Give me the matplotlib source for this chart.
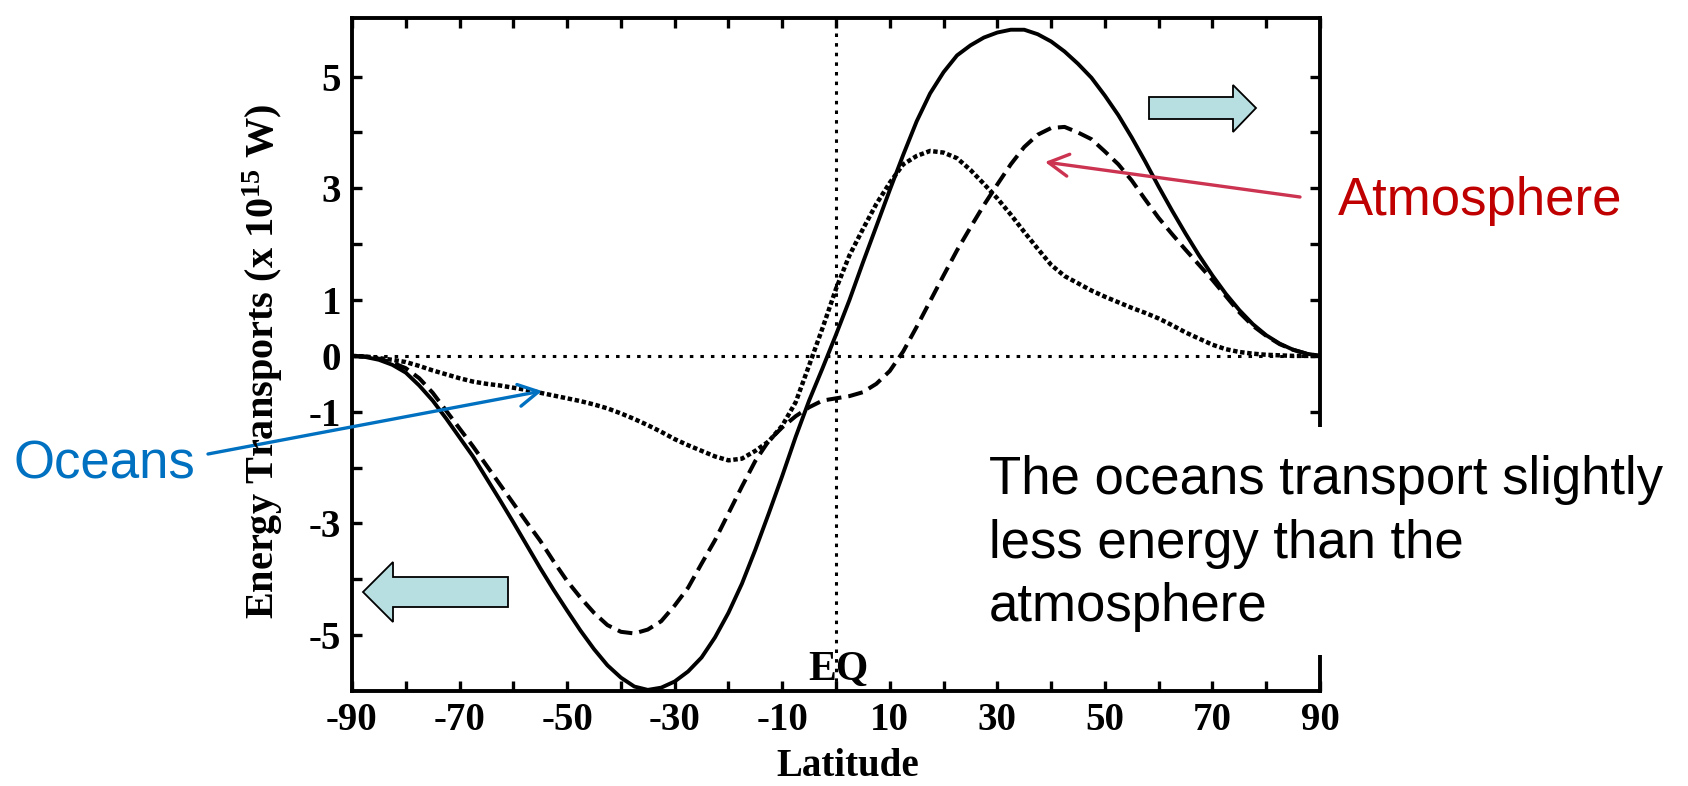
import matplotlib
matplotlib.use('Agg')
import matplotlib.pyplot as plt
from matplotlib.patches import Polygon, Rectangle

# ---------------- data ----------------
lat = [-90, -87.5, -85, -82.5, -80, -77.5, -75, -72.5, -70, -67.5, -65, -62.5,
       -60, -57.5, -55, -52.5, -50, -47.5, -45, -42.5, -40, -37.5, -35, -32.5,
       -30, -27.5, -25, -22.5, -20, -17.5, -15, -12.5, -10, -7.5, -5, -2.5,
       0, 2.5, 5, 7.5, 10, 12.5, 15, 17.5, 20, 22.5, 25, 27.5, 30, 32.5, 35,
       37.5, 40, 42.5, 45, 47.5, 50, 52.5, 55, 57.5, 60, 62.5, 65, 67.5, 70,
       72.5, 75, 77.5, 80, 82.5, 85, 87.5, 90]
total = [0, -0.02, -0.07, -0.16, -0.3, -0.53, -0.8, -1.12, -1.46, -1.8, -2.19,
         -2.58, -2.98, -3.39, -3.8, -4.19, -4.56, -4.92, -5.25, -5.54, -5.76,
         -5.92, -5.98, -5.94, -5.83, -5.65, -5.4, -5.04, -4.6, -4.08, -3.47,
         -2.82, -2.15, -1.45, -0.8, -0.22, 0.38, 1.0, 1.67, 2.32, 2.97, 3.6,
         4.2, 4.7, 5.08, 5.38, 5.56, 5.7, 5.79, 5.84, 5.84, 5.76, 5.63, 5.45,
         5.23, 4.98, 4.66, 4.31, 3.91, 3.48, 3.03, 2.6, 2.19, 1.8, 1.44, 1.11,
         0.82, 0.57, 0.37, 0.22, 0.11, 0.04, 0]
atmosphere = [0, -0.01, -0.05, -0.12, -0.22, -0.4, -0.66, -0.98, -1.3, -1.62,
              -1.96, -2.3, -2.64, -2.98, -3.31, -3.68, -4.03, -4.33, -4.6,
              -4.82, -4.94, -4.97, -4.9, -4.75, -4.47, -4.15, -3.72, -3.3,
              -2.82, -2.34, -1.88, -1.52, -1.28, -1.08, -0.92, -0.8, -0.76,
              -0.72, -0.65, -0.5, -0.27, 0.08, 0.52, 0.98, 1.44, 1.89, 2.3,
              2.7, 3.07, 3.43, 3.74, 3.96, 4.08, 4.1, 4.0, 3.88, 3.66, 3.43,
              3.14, 2.8, 2.47, 2.18, 1.9, 1.63, 1.36, 1.07, 0.78, 0.54, 0.36,
              0.21, 0.11, 0.04, 0]
ocean = [0, -0.01, -0.04, -0.07, -0.11, -0.18, -0.26, -0.33, -0.4, -0.46,
         -0.5, -0.53, -0.57, -0.61, -0.66, -0.71, -0.76, -0.81, -0.87, -0.94,
         -1.03, -1.13, -1.24, -1.36, -1.49, -1.6, -1.7, -1.8, -1.87, -1.84,
         -1.7, -1.53, -1.25, -0.83, -0.17, 0.5, 1.2, 1.8, 2.27, 2.72, 3.1,
         3.43, 3.58, 3.67, 3.64, 3.54, 3.33, 3.08, 2.82, 2.53, 2.22, 1.92,
         1.63, 1.43, 1.3, 1.17, 1.06, 0.96, 0.86, 0.77, 0.67, 0.55, 0.42,
         0.31, 0.2, 0.12, 0.07, 0.04, 0.02, 0.01, 0.0, 0.0, 0]

xtick_values = list(range(-90, 91, 10))
xtick_labels = ['-90', '', '-70', '', '-50', '', '-30', '', '-10', '',
                '10', '', '30', '', '50', '', '70', '', '90']
ytick_values = list(range(-5, 6))
ytick_labels = ['-5', '', '-3', '', '-1', '0', '1', '', '3', '', '5']

# ---------------- figure ----------------
W, H = 1688, 786
plt.rcParams['mathtext.fontset'] = 'custom'
plt.rcParams['mathtext.rm'] = 'Liberation Serif:bold'
plt.rcParams['mathtext.bf'] = 'Liberation Serif:bold'
plt.rcParams['mathtext.it'] = 'Liberation Serif:bold:italic'

fig = plt.figure(figsize=(W / 100, H / 100), dpi=100)
fig.patch.set_facecolor('white')


def fx(px):
    return px / W


def fy(py):
    return 1 - py / H


ax = fig.add_axes([fx(352), fy(691), fx(1320) - fx(352), fy(18) - fy(691)])
ax.set_xlim(-90, 90)
ax.set_ylim(-6.0, 6.05)

serif = 'Liberation Serif'

ax.axhline(0, color='black', lw=2.2, linestyle=(0, (1.15, 2.3)), zorder=1)
ax.axvline(0, color='black', lw=2.2, linestyle=(0, (1.15, 2.0)), zorder=1)
ax.plot(lat, total, color='black', lw=2.8, zorder=3)
ax.plot(lat, atmosphere, color='black', lw=2.9, linestyle=(0, (3.7, 1.75)), zorder=3)
ax.plot(lat, ocean, color='black', lw=3.2, linestyle=(0, (1.0, 0.6)), zorder=3)

for s in ax.spines.values():
    s.set_linewidth(2.8)

ax.set_xticks(xtick_values)
ax.set_xticklabels(xtick_labels, fontfamily=serif, fontweight='bold', fontsize=28)
ax.set_yticks(ytick_values)
ax.set_yticklabels(ytick_labels, fontfamily=serif, fontweight='bold', fontsize=28)
ax.tick_params(axis='both', direction='in', length=7, width=2.4,
               top=True, right=True)
ax.tick_params(axis='x', pad=8)
ax.tick_params(axis='y', pad=8)

ax.text(0.5, -5.8, 'EQ', fontfamily=serif, fontweight='bold', fontsize=30,
        ha='center', va='baseline', zorder=4)

fig.text(fx(848), fy(767), 'Latitude', fontfamily=serif, fontweight='bold',
         fontsize=28, ha='center', va='center')
fig.text(fx(263), fy(362), r'Energy Transports (x 10$^{\mathrm{15}}$ W)',
         fontfamily=serif, fontweight='bold', fontsize=29, rotation=90,
         ha='center', va='center')

# ---------------- annotations ----------------
cyan = '#B7DEE0'


def poly(pts):
    return Polygon([(fx(x), fy(y)) for x, y in pts], closed=True,
                   transform=fig.transFigure, facecolor=cyan,
                   edgecolor='black', lw=1.3, zorder=6)


fig.add_artist(poly([(363, 592), (393, 562), (393, 577), (508, 577),
                     (508, 607), (393, 607), (393, 622)]))
fig.add_artist(poly([(1149, 97), (1233, 97), (1233, 85), (1256, 108),
                     (1233, 132), (1233, 119), (1149, 119)]))

# white box hiding part of the right frame behind the comment
fig.add_artist(Rectangle((fx(978), fy(655)), fx(1688) - fx(978), (655 - 427) / H,
                         transform=fig.transFigure, facecolor='white',
                         edgecolor='none', zorder=7))

sans = 'Liberation Sans'
for txt, base in [('The oceans transport slightly', 494),
                  ('less energy than the', 558),
                  ('atmosphere', 621)]:
    fig.text(fx(989), fy(base), txt, fontfamily=sans, fontsize=38,
             color='black', ha='left', va='baseline', zorder=8)

fig.text(fx(1338), fy(215), 'Atmosphere', fontfamily=sans, fontsize=38,
         color='#C00000', ha='left', va='baseline', zorder=8)
fig.text(fx(13), fy(478), 'Oceans', fontfamily=sans, fontsize=38,
         color='#0070C0', ha='left', va='baseline', zorder=8)

ax.annotate('', xy=(542, H - 391), xycoords='figure pixels',
            xytext=(208, H - 454), textcoords='figure pixels',
            arrowprops=dict(arrowstyle='->, head_length=0.4, head_width=0.22',
                            color='#0070C0', lw=2.4, mutation_scale=36,
                            shrinkA=0, shrinkB=0), zorder=9)
ax.annotate('', xy=(1045, H - 162), xycoords='figure pixels',
            xytext=(1300, H - 197), textcoords='figure pixels',
            arrowprops=dict(arrowstyle='->, head_length=0.4, head_width=0.22',
                            color='#CC3350', lw=2.4, mutation_scale=36,
                            shrinkA=0, shrinkB=0), zorder=9)

fig.savefig('out.png', dpi=100, facecolor='white')
